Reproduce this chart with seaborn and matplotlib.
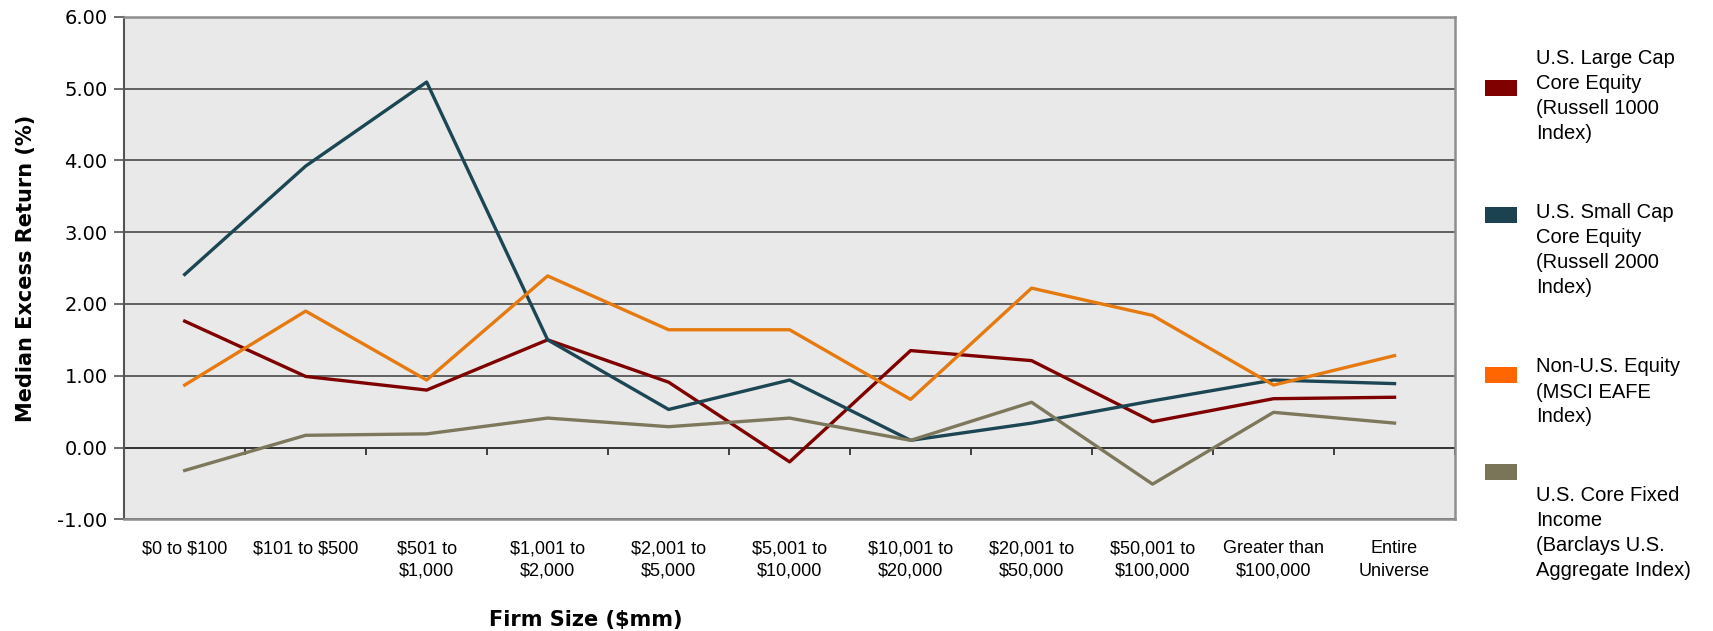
import numpy as np
import pandas as pd
import matplotlib
matplotlib.use("Agg")
import matplotlib.pyplot as plt
from matplotlib.patches import Rectangle
import seaborn as sns

plt.rcParams["text.parse_math"] = False

categories = ["$0 to $100", "$101 to $500", "$501 to\n$1,000", "$1,001 to\n$2,000",
              "$2,001 to\n$5,000", "$5,001 to\n$10,000", "$10,001 to\n$20,000",
              "$20,001 to\n$50,000", "$50,001 to\n$100,000", "Greater than\n$100,000",
              "Entire\nUniverse"]
large_cap = [1.76, 0.99, 0.80, 1.50, 0.91, -0.20, 1.35, 1.21, 0.36, 0.68, 0.70]
small_cap = [2.41, 3.92, 5.09, 1.50, 0.53, 0.94, 0.10, 0.34, 0.65, 0.94, 0.89]
non_us = [0.87, 1.90, 0.94, 2.39, 1.64, 1.64, 0.67, 2.22, 1.84, 0.87, 1.28]
fixed_inc = [-0.32, 0.17, 0.19, 0.41, 0.29, 0.41, 0.10, 0.63, -0.51, 0.49, 0.34]
series_names = ["U.S. Large Cap\nCore Equity\n(Russell 1000\nIndex)",
                "U.S. Small Cap\nCore Equity\n(Russell 2000\nIndex)",
                "Non-U.S. Equity\n(MSCI EAFE\nIndex)",
                "U.S. Core Fixed\nIncome\n(Barclays U.S.\nAggregate Index)"]
y_ticks = [-1, 0, 1, 2, 3, 4, 5, 6]

line_colors = ["#7F0000", "#1C4654", "#E57A10", "#7D785C"]
legend_colors = ["#800000", "#1A4250", "#FF6600", "#7A7558"]

rows = []
for name, vals in zip(series_names, [large_cap, small_cap, non_us, fixed_inc]):
    for i, v in enumerate(vals):
        rows.append({"pos": i, "value": v, "series": name})
df = pd.DataFrame(rows)

fig = plt.figure(figsize=(17.13, 6.31), dpi=100)
ax = fig.add_axes([0.0725, 0.177, 0.8494 - 0.0725, 0.9735 - 0.177])
ax.set_facecolor("#E9E9E9")

sns.lineplot(data=df, x="pos", y="value", hue="series", hue_order=series_names,
             palette=dict(zip(series_names, line_colors)), linewidth=2.4,
             legend=False, sort=False, ax=ax, zorder=3)

ax.set_xlim(-0.5, len(categories) - 0.5)
ax.set_ylim(-1, 6)
ax.set_yticks(y_ticks)
ax.set_yticklabels([f"{v:.2f}" for v in y_ticks], fontfamily="DejaVu Sans", fontsize=14)
ax.set_xticks(range(len(categories)))
ax.set_xticklabels(categories, fontfamily="Liberation Sans", fontsize=13, linespacing=1.45)
ax.tick_params(axis="x", length=0, pad=15)
ax.tick_params(axis="y", length=7, width=1.2, color="#555555", pad=5)
ax.yaxis.grid(True, color="#3C3C3C", linewidth=1.1)
ax.xaxis.grid(False)
ax.set_axisbelow(True)
for s in ["top", "right", "bottom"]:
    ax.spines[s].set_color("#8E8E8E")
    ax.spines[s].set_linewidth(1.8)
ax.spines["left"].set_color("#555555")
ax.spines["left"].set_linewidth(1.5)

# zero axis with boundary ticks
sec = ax.secondary_xaxis(1 / 7)
sec.set_xticks(np.arange(-0.5, len(categories) - 0.4, 1.0))
sec.tick_params(axis="x", direction="out", length=5, width=1.2, color="#222222",
                labelbottom=False, labeltop=False, bottom=True, top=False)
for s in sec.spines.values():
    s.set_color("#111111")
    s.set_linewidth(1.3)

ax.set_xlabel("")
ax.set_ylabel("Median Excess Return (%)", fontfamily="DejaVu Sans", fontweight="bold",
              fontsize=15, labelpad=15)
fig.text(586 / 1713, 1 - 620 / 631, "Firm Size ($mm)", fontfamily="DejaVu Sans",
         fontweight="bold", fontsize=15, ha="center", va="center")

# legend
W, H = 1713, 631
group_centers = [96, 250, 392, 533]
patch_centers = [88, 215, 375, 472]
for name, col, gc, pc in zip(series_names, legend_colors, group_centers, patch_centers):
    fig.add_artist(Rectangle((1485 / W, 1 - (pc + 8) / H), 32 / W, 16 / H,
                             transform=fig.transFigure, facecolor=col, edgecolor="none"))
    fig.text(1536 / W, 1 - gc / H, name, fontfamily="Liberation Sans", fontsize=14.5,
             ha="left", va="center", linespacing=1.4)

fig.savefig("out.png", dpi=100)
